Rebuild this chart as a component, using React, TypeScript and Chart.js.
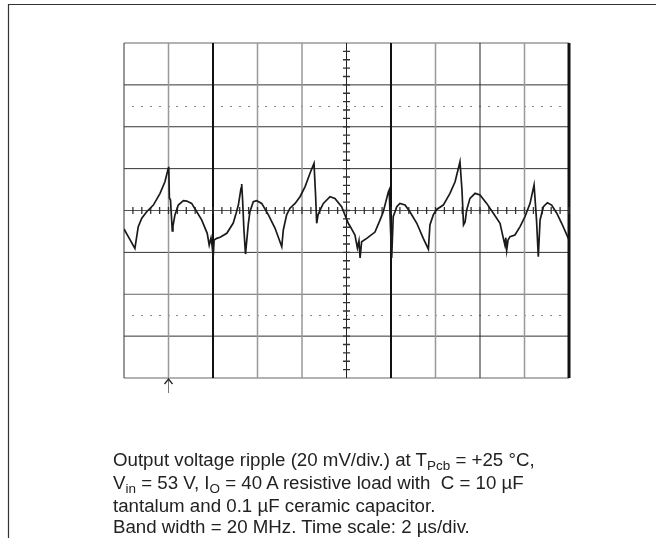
import React, { useEffect, useRef } from "react";
import { Chart, registerables } from "chart.js";

Chart.register(...registerables);

// Time axis in µs (2 µs/div), ripple in mV (20 mV/div)
const timeUs = [
  0, 0.18, 0.49, 0.64, 0.8, 1.02, 1.32, 1.62, 1.84, 1.99, 2.01, 2.04, 2.09, 2.17, 2.2, 2.29, 2.44, 2.67, 2.82, 3.04,
  3.27, 3.49, 3.74, 3.83, 3.91, 3.96, 4.01, 4.05, 4.17, 4.32, 4.62, 4.91, 5.03, 5.14, 5.26, 5.29, 5.33, 5.39, 5.46,
  5.59, 5.66, 5.81, 5.96, 6.19, 6.49, 6.79, 7.09, 7.16, 7.31, 7.46, 7.69, 7.91, 8.14, 8.36, 8.54, 8.61, 8.66, 8.72,
  8.81, 8.96, 9.26, 9.48, 9.78, 10.08, 10.16, 10.38, 10.49, 10.56, 10.61, 10.68, 10.91, 11.28, 11.51, 11.65, 11.88,
  11.92, 11.98, 12.03, 12.1, 12.26, 12.4, 12.63, 12.85, 13.16, 13.45, 13.68, 13.75, 13.9, 14.05, 14.35, 14.65,
  14.88, 15.1, 15.19, 15.26, 15.33, 15.4, 15.55, 15.78, 16.0, 16.3, 16.6, 16.9, 17.05, 17.12, 17.16, 17.2, 17.26,
  17.35, 17.57, 17.8, 18.02, 18.25, 18.43, 18.54, 18.62, 18.7, 18.85, 19.03, 19.22, 19.45, 19.67, 19.97, 20,
];
const rippleMv = [
  -8.8, -12.2, -18.1, -7.7, -3.7, -0.6, 2.6, 8.2, 13.7, 20.1, 20.9, 6.0, 5.0, -9.8, -7.4, -2.1, 2.6, 4.7, 4.5, 3.4,
  -0.6, -4.5, -10.9, -16.5, -13.1, -16.9, -22.0, -14.1, -13.3, -12.8, -10.9, -6.0, -1.7, 2.6, 10.7, 12.6, 5.0, -9.3,
  -20.8, -6.1, -0.6, 4.2, 4.7, 3.4, -2.1, -8.5, -17.3, -9.3, -2.1, 1.1, 3.4, 6.6, 11.4, 17.8, 22.5, 7.4, -6.1, -2.1,
  0.2, 3.4, 6.6, 5.8, 1.8, -6.1, -7.5, -11.7, -17.9, -14.5, -22.7, -14.9, -13.3, -10.3, -4.5, -0.7, 8.8, 9.8, -9.3,
  -22.7, -3.0, 1.8, 3.4, 2.6, -0.6, -6.1, -13.3, -18.5, -6.9, -2.1, 0.5, 2.6, 8.2, 13.7, 23.3, 9.8, -6.9, -5.5, 0.2,
  5.8, 8.2, 7.4, 3.4, -1.3, -6.1, -13.3, -16.5, -13.0, -18.9, -14.1, -12.5, -11.7, -7.7, -3.0, 3.4, 12.2, -4.5,
  -22.1, -4.5, 1.8, 3.7, 2.6, -1.3, -6.1, -13.3, -14.0,
];

const xDivisionsUs = [0, 2, 4, 6, 8, 10, 12, 14, 16, 18, 20];
const yDivisionsMv = [80, 60, 40, 20, 0, -20, -40, -60, -80];
const dottedLevelsMv = [50, -50];
const triggerTimeUs = 2;

const gridPlugin = {
  id: "scopeGrid",
  beforeDatasetsDraw(chart: any) {
    const { ctx, chartArea, scales } = chart;
    const xs = scales.x;
    const ys = scales.y;
    const vStyles: [string, number][] = [
      ["#333", 1], ["#999", 1.5], ["#111", 2], ["#999", 1.5], ["#999", 1.5], ["#222", 1],
      ["#111", 2], ["#999", 1.5], ["#222", 1], ["#999", 1.5], ["#111", 3],
    ];
    const hStyles: [string, number][] = [
      ["#999", 1.5], ["#333", 1], ["#333", 1], ["#333", 1], ["#555", 1], ["#333", 1], ["#666", 1], ["#333", 1], ["#999", 1.5],
    ];
    ctx.save();
    ctx.fillStyle = "#888";
    dottedLevelsMv.forEach((lv) => {
      const py = Math.round(ys.getPixelForValue(lv));
      for (let t = 0.4; t < 20; t += 0.4) {
        const px = xs.getPixelForValue(t);
        ctx.fillRect(Math.round(px) - 1, py, 2, 1);
      }
    });
    yDivisionsMv.forEach((v, i) => {
      const py = ys.getPixelForValue(v);
      ctx.strokeStyle = hStyles[i][0];
      ctx.lineWidth = hStyles[i][1];
      ctx.beginPath();
      ctx.moveTo(chartArea.left, py);
      ctx.lineTo(chartArea.right, py);
      ctx.stroke();
    });
    xDivisionsUs.forEach((t, i) => {
      const px = xs.getPixelForValue(t);
      ctx.strokeStyle = vStyles[i][0];
      ctx.lineWidth = vStyles[i][1];
      ctx.beginPath();
      ctx.moveTo(px, chartArea.top);
      ctx.lineTo(px, chartArea.bottom);
      ctx.stroke();
    });
    const cx = xs.getPixelForValue(10);
    const cy = ys.getPixelForValue(0);
    ctx.strokeStyle = "#333";
    ctx.lineWidth = 1.3;
    ctx.beginPath();
    for (let t = 0.4; t < 20; t += 0.4) {
      const px = xs.getPixelForValue(t);
      ctx.moveTo(px, cy - 3.5);
      ctx.lineTo(px, cy + 3.5);
    }
    for (let v = -76; v < 80; v += 4) {
      const py = ys.getPixelForValue(v);
      ctx.moveTo(cx - 3.5, py);
      ctx.lineTo(cx + 3.5, py);
    }
    ctx.stroke();
    ctx.restore();
  },
  afterDraw(chart: any) {
    const { ctx, chartArea, scales } = chart;
    ctx.save();
    const ax = scales.x.getPixelForValue(triggerTimeUs);
    const b = chartArea.bottom;
    ctx.strokeStyle = "#777";
    ctx.lineWidth = 1;
    ctx.beginPath();
    ctx.moveTo(ax, b);
    ctx.lineTo(ax, b + 15);
    ctx.stroke();
    ctx.strokeStyle = "#222";
    ctx.lineWidth = 1.3;
    ctx.beginPath();
    ctx.moveTo(ax - 4, b + 6);
    ctx.lineTo(ax, b + 1);
    ctx.lineTo(ax + 4, b + 6);
    ctx.stroke();
    ctx.strokeStyle = "#333";
    ctx.lineWidth = 1.2;
    ctx.beginPath();
    ctx.moveTo(656, 4.5);
    ctx.lineTo(8.5, 4.5);
    ctx.lineTo(8.5, 538);
    ctx.stroke();
    ctx.restore();
  },
};

export default function App() {
  const ref = useRef<HTMLCanvasElement | null>(null);
  useEffect(() => {
    if (!ref.current) return;
    const chart = new Chart(ref.current, {
      type: "line",
      data: {
        datasets: [
          {
            data: timeUs.map((t, i) => ({ x: t, y: rippleMv[i] })),
            borderColor: "#1a1a1a",
            borderWidth: 1.7,
            pointRadius: 0,
            tension: 0,
            fill: false,
          },
        ],
      },
      options: {
        responsive: false,
        animation: false,
        devicePixelRatio: 1,
        layout: { padding: { left: 124, top: 43, right: 87, bottom: 160 } },
        plugins: { legend: { display: false }, tooltip: { enabled: false } },
        scales: {
          x: { type: "linear", min: 0, max: 20, display: false },
          y: { type: "linear", min: -80, max: 80, display: false },
        },
      },
      plugins: [gridPlugin],
    });
    return () => chart.destroy();
  }, []);

  const sub = (s: string) => (
    <span style={{ fontSize: "0.72em", position: "relative", top: "0.3em" }}>{s}</span>
  );

  return (
    <div style={{ position: "absolute", left: 0, top: 0, width: 656, height: 538, background: "#fff", overflow: "hidden" }}>
      <canvas ref={ref} width={656} height={538} style={{ position: "absolute", left: 0, top: 0 }} />
      <div
        style={{
          position: "absolute",
          left: 113,
          top: 448.5,
          fontFamily: "'Liberation Sans', Arial, Helvetica, sans-serif",
          fontSize: 18.7,
          lineHeight: "21px",
          color: "#222",
          whiteSpace: "nowrap",
        }}
      >
        <div>Output voltage ripple (20 mV/div.) at T{sub("Pcb")} = +25 °C,</div>
        <div>V{sub("in")} = 53 V, I{sub("O")} = 40 A resistive load with&nbsp; C = 10 µF</div>
        <div>tantalum and 0.1 µF ceramic capacitor.</div>
        <div>Band width = 20 MHz. Time scale: 2 µs/div.</div>
      </div>
    </div>
  );
}
